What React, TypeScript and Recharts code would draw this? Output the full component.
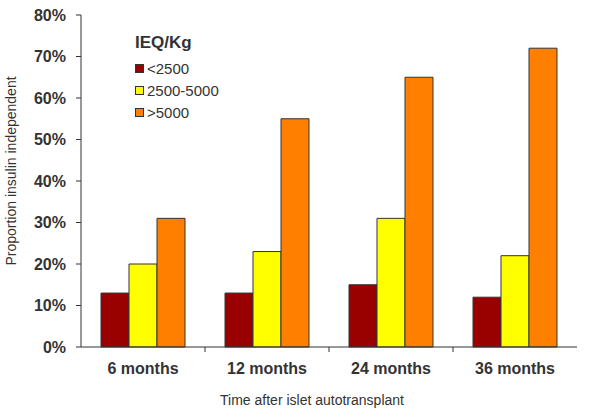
import React from "react";
import {
  BarChart,
  Bar,
  XAxis,
  YAxis,
} from "recharts";

// chart values
const categories = ["6 months", "12 months", "24 months", "36 months"];
const lowDose = [13, 13, 15, 12]; // <2500
const midDose = [20, 23, 31, 22]; // 2500-5000
const highDose = [31, 55, 65, 72]; // >5000
const yTicks = [0, 10, 20, 30, 40, 50, 60, 70, 80];

const seriesNames = ["<2500", "2500-5000", ">5000"];
const seriesColors = ["#990000", "#FFFF00", "#FF8000"];

const data = categories.map((c, i) => ({
  label: c,
  low: lowDose[i],
  mid: midDose[i],
  high: highDose[i],
}));

const WIDTH = 600;
const HEIGHT = 411;
const MARGIN = { top: 15, right: 23, bottom: 0, left: 0 };
const Y_AXIS_WIDTH = 81;
const AXIS_COLOR = "#333";
const FONT = "'Liberation Sans', Arial, sans-serif";

const plotWidth = WIDTH - MARGIN.left - MARGIN.right - Y_AXIS_WIDTH;
const halfBand = plotWidth / categories.length / 2;

// category label plus a tick mark on the boundary to its right
function XTick(props: any) {
  const { x, y, payload, index } = props;
  const axisY = y - 8;
  return (
    <g>
      {index < categories.length - 1 && (
        <line
          x1={x + halfBand}
          x2={x + halfBand}
          y1={axisY}
          y2={axisY + 5}
          stroke={AXIS_COLOR}
        />
      )}
      <text
        x={x}
        y={axisY + 27}
        textAnchor="middle"
        fontSize={16}
        fontWeight="bold"
        fill="#333"
        fontFamily={FONT}
      >
        {payload.value}
      </text>
    </g>
  );
}

function LegendBox() {
  return (
    <div
      style={{
        position: "absolute",
        top: 33,
        left: 135,
        fontFamily: FONT,
        color: "#333",
      }}
    >
      <div style={{ fontSize: 17, fontWeight: "bold", marginBottom: 4 }}>
        IEQ/Kg
      </div>
      {seriesNames.map((name, i) => (
        <div
          key={name}
          style={{
            display: "flex",
            alignItems: "center",
            fontSize: 15,
            height: 22,
          }}
        >
          <span
            style={{
              display: "inline-block",
              width: 7,
              height: 7,
              background: seriesColors[i],
              border: "1px solid #333",
              marginRight: 3,
            }}
          />
          {name}
        </div>
      ))}
    </div>
  );
}

export default function App() {
  return (
    <div style={{ position: "absolute", left: 0, top: 0, background: "#fff" }}>
      <BarChart
        width={WIDTH}
        height={HEIGHT}
        data={data}
        margin={MARGIN}
        barGap={0}
        barCategoryGap={20}
        style={{ fontFamily: FONT }}
      >
        <XAxis
          dataKey="label"
          height={64}
          tickLine={false}
          axisLine={{ stroke: AXIS_COLOR }}
          tick={<XTick />}
          interval={0}
          label={({ viewBox }: any) => (
            <text
              x={viewBox.x + viewBox.width / 2 - 17}
              y={viewBox.y + 58}
              textAnchor="middle"
              fontSize={14}
              fill="#333"
              fontFamily={FONT}
            >
              Time after islet autotransplant
            </text>
          )}
        />
        <YAxis
          width={Y_AXIS_WIDTH}
          domain={[0, 80]}
          ticks={yTicks}
          interval={0}
          tickFormatter={(v: number) => `${v}%`}
          tickSize={5}
          tickMargin={10}
          axisLine={{ stroke: AXIS_COLOR }}
          tickLine={{ stroke: AXIS_COLOR }}
          tick={{ fontSize: 16, fontWeight: "bold", fill: "#333" }}
          label={({ viewBox }: any) => (
            <text
              x={16}
              y={viewBox.y + viewBox.height / 2 - 10}
              textAnchor="middle"
              fontSize={14}
              fill="#333"
              fontFamily={FONT}
              transform={`rotate(-90 16 ${viewBox.y + viewBox.height / 2 - 10})`}
            >
              Proportion insulin independent
            </text>
          )}
        />
        <Bar dataKey="low" name={seriesNames[0]} fill={seriesColors[0]} stroke="#333" isAnimationActive={false} />
        <Bar dataKey="mid" name={seriesNames[1]} fill={seriesColors[1]} stroke="#333" isAnimationActive={false} />
        <Bar dataKey="high" name={seriesNames[2]} fill={seriesColors[2]} stroke="#333" isAnimationActive={false} />
      </BarChart>
      <LegendBox />
    </div>
  );
}
